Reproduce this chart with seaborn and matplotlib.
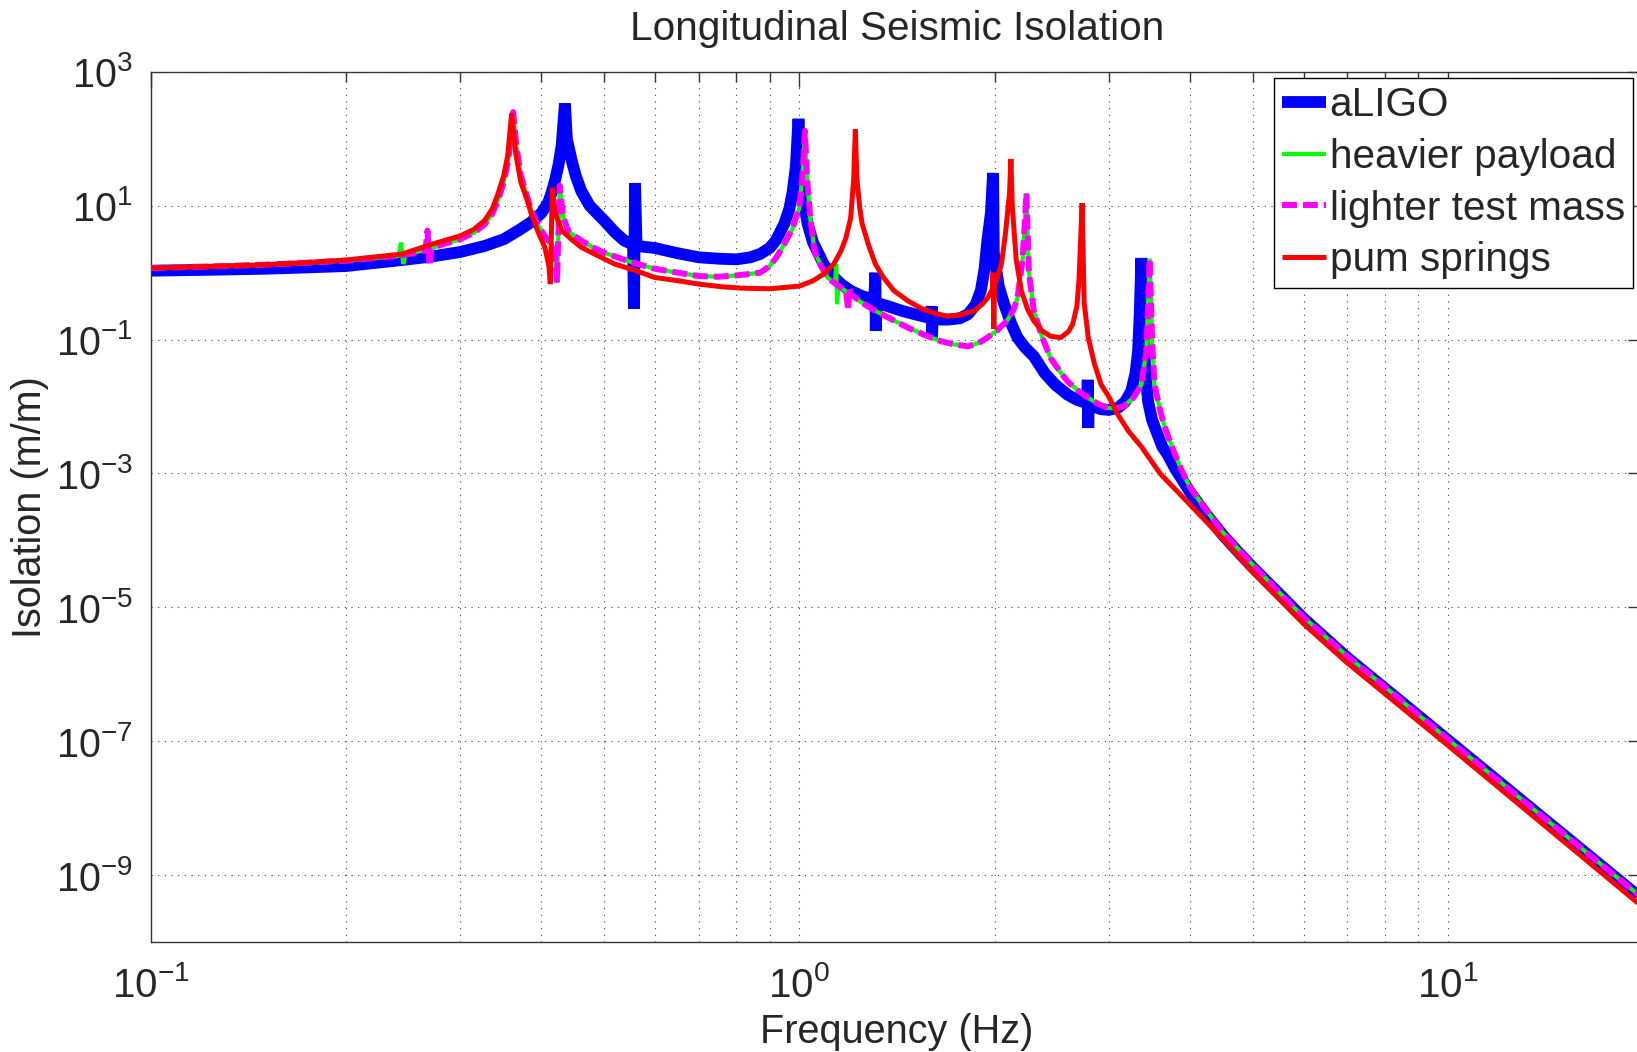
import matplotlib
matplotlib.use("Agg")
import matplotlib.pyplot as plt
import matplotlib.ticker as ticker
import pandas
import seaborn as sns

# (frequency Hz, isolation m/m)
aligo_pts = [
    (0.1, 1.072), (0.125, 1.109), (0.15, 1.148), (0.175, 1.202), (0.2, 1.259), (0.244, 1.549),
    (0.27, 1.738), (0.3, 2.042), (0.327, 2.512), (0.35, 3.162), (0.37, 4.365), (0.385, 5.623),
    (0.40, 7.762), (0.41, 11.22), (0.415, 15.85), (0.42, 23.99), (0.425, 39.81), (0.43, 79.43),
    (0.435, 338.8), (0.438, 100.0), (0.445, 50.12), (0.452, 28.18), (0.461, 16.60), (0.475, 10.0),
    (0.50, 6.026), (0.52, 3.981), (0.537, 3.020), (0.554, 2.630), (0.556, 0.2884), (0.558, 21.88),
    (0.561, 2.512), (0.598, 2.344), (0.65, 1.950), (0.70, 1.698), (0.75, 1.622), (0.80, 1.585),
    (0.84, 1.698), (0.87, 1.905), (0.90, 2.344), (0.92, 3.020), (0.948, 5.370), (0.965, 8.913),
    (0.977, 16.60), (0.988, 39.81), (0.997, 199.5), (1.004, 50.12), (1.012, 15.85), (1.02, 8.913),
    (1.03, 5.370), (1.05, 2.818), (1.09, 1.349), (1.12, 0.9333), (1.16, 0.6761), (1.20, 0.5370),
    (1.25, 0.4467), (1.305, 0.3981), (1.31, 1.0), (1.312, 0.1349), (1.315, 0.3548), (1.37, 0.3162),
    (1.44, 0.2692), (1.52, 0.2344), (1.595, 0.2089), (1.60, 0.3162), (1.602, 0.1072), (1.605, 0.1995),
    (1.70, 0.1995), (1.77, 0.2089), (1.82, 0.2399), (1.87, 0.3311), (1.905, 0.5370), (1.93, 1.122),
    (1.95, 3.020), (1.975, 7.943), (1.99, 30.90), (1.995, 1.995), (2.03, 0.6310), (2.07, 0.3388),
    (2.12, 0.1778), (2.17, 0.1072), (2.23, 0.07586), (2.30, 0.05623), (2.39, 0.03162), (2.48, 0.02138),
    (2.59, 0.01514), (2.68, 0.01259), (2.78, 0.01122), (2.785, 0.02512), (2.79, 0.004786), (2.795, 0.01072),
    (2.92, 0.009120), (3.0, 0.008913), (3.10, 0.009550), (3.18, 0.01175), (3.25, 0.01698), (3.30, 0.03162),
    (3.33, 0.06761), (3.35, 0.2512), (3.37, 1.660), (3.39, 0.1259), (3.42, 0.03162), (3.45, 0.01202),
    (3.50, 0.006310), (3.57, 0.003802), (3.63, 0.002512), (3.70, 0.001905), (3.80, 0.001175),
    (3.90, 7.943e-4), (4.0, 5.370e-4), (4.25, 2.399e-4), (4.5, 1.202e-4), (4.75, 6.761e-5),
    (5.0, 3.981e-5), (5.5, 1.585e-5), (6.0, 6.761e-6), (7.0, 1.778e-6), (8.0, 6.166e-7),
    (10.0, 1.047e-7), (20.0, 4.266e-10),
]

heavy_pts = [
    (0.1, 1.175), (0.125, 1.245), (0.15, 1.318), (0.175, 1.413), (0.2, 1.514), (0.241, 1.778),
    (0.243, 2.818), (0.245, 1.349), (0.247, 1.862), (0.268, 2.239), (0.285, 2.754), (0.3, 3.162),
    (0.315, 3.981), (0.327, 5.248), (0.336, 7.586), (0.343, 12.02), (0.35, 22.39), (0.356, 50.12),
    (0.362, 251.2), (0.366, 79.43), (0.372, 28.18), (0.38, 14.13), (0.386, 8.511), (0.395, 5.248),
    (0.405, 3.548), (0.415, 2.630), (0.420, 2.239), (0.423, 0.7079), (0.427, 19.95), (0.432, 7.079),
    (0.44, 4.169), (0.45, 3.548), (0.461, 3.020), (0.48, 2.399), (0.50, 1.995), (0.55, 1.445),
    (0.598, 1.148), (0.65, 1.0), (0.70, 0.8913), (0.75, 0.8710), (0.80, 0.9120), (0.87, 1.0),
    (0.90, 1.259), (0.925, 1.778), (0.948, 2.692), (0.975, 4.467), (1.0, 9.333), (1.012, 31.62),
    (1.02, 131.8), (1.028, 25.12), (1.04, 6.310), (1.055, 2.138), (1.08, 1.259), (1.107, 0.8318),
    (1.135, 0.7079), (1.14, 1.349), (1.143, 0.3388), (1.15, 0.6310), (1.19, 0.5012), (1.25, 0.3548),
    (1.31, 0.2692), (1.39, 0.1995), (1.47, 0.1514), (1.56, 0.1175), (1.65, 0.09550), (1.73, 0.08511),
    (1.82, 0.07943), (1.89, 0.08913), (1.95, 0.1072), (2.02, 0.1380), (2.09, 0.1905), (2.14, 0.2818),
    (2.17, 0.4169), (2.21, 1.585), (2.24, 15.49), (2.26, 1.0), (2.30, 0.2692), (2.37, 0.1072),
    (2.44, 0.05370), (2.52, 0.03388), (2.59, 0.02399), (2.69, 0.01738), (2.79, 0.01349), (2.89, 0.01096),
    (2.99, 0.009550), (3.08, 0.009333), (3.17, 0.01023), (3.28, 0.01380), (3.37, 0.02138), (3.43, 0.06761),
    (3.47, 1.622), (3.50, 0.1), (3.53, 0.02138), (3.6, 0.008913), (3.66, 0.005012), (3.79, 0.001995),
    (3.9, 0.001047), (4.0, 6.310e-4), (4.25, 2.754e-4), (4.5, 1.318e-4), (5.0, 4.365e-5),
    (5.5, 1.660e-5), (6.0, 7.079e-6), (7.0, 1.862e-6), (8.0, 6.457e-7), (10.0, 1.072e-7), (20.0, 4.467e-10),
]

light_pts = [
    (0.1, 1.175), (0.125, 1.245), (0.15, 1.318), (0.175, 1.413), (0.2, 1.514), (0.244, 1.820),
    (0.265, 2.138), (0.267, 4.266), (0.269, 1.259), (0.271, 2.344), (0.285, 2.754), (0.3, 3.162),
    (0.315, 3.981), (0.327, 5.248), (0.336, 7.586), (0.343, 12.02), (0.35, 22.39), (0.356, 50.12),
    (0.362, 251.2), (0.366, 79.43), (0.372, 28.18), (0.38, 14.13), (0.386, 8.511), (0.395, 5.248),
    (0.405, 3.548), (0.415, 2.630), (0.420, 2.239), (0.423, 0.7079), (0.427, 19.95), (0.432, 7.079),
    (0.44, 4.169), (0.45, 3.548), (0.461, 3.020), (0.48, 2.399), (0.50, 1.995), (0.55, 1.445),
    (0.598, 1.148), (0.65, 1.0), (0.70, 0.8913), (0.75, 0.8710), (0.80, 0.9120), (0.87, 1.0),
    (0.90, 1.259), (0.925, 1.778), (0.948, 2.692), (0.975, 4.467), (1.0, 9.333), (1.012, 31.62),
    (1.02, 131.8), (1.028, 25.12), (1.04, 6.310), (1.055, 2.138), (1.08, 1.259), (1.107, 0.8318),
    (1.15, 0.6310), (1.18, 0.5370), (1.19, 0.2692), (1.193, 0.5888), (1.20, 0.4786), (1.25, 0.3548),
    (1.31, 0.2692), (1.39, 0.1995), (1.47, 0.1514), (1.56, 0.1175), (1.65, 0.09550), (1.73, 0.08511),
    (1.82, 0.07943), (1.89, 0.08913), (1.95, 0.1072), (2.02, 0.1380), (2.09, 0.1905), (2.14, 0.2818),
    (2.17, 0.4169), (2.21, 1.585), (2.24, 15.49), (2.26, 1.0), (2.30, 0.2692), (2.37, 0.1072),
    (2.44, 0.05370), (2.52, 0.03388), (2.59, 0.02399), (2.69, 0.01738), (2.79, 0.01349), (2.89, 0.01096),
    (2.99, 0.009550), (3.08, 0.009333), (3.17, 0.01023), (3.28, 0.01380), (3.37, 0.02138), (3.43, 0.06761),
    (3.47, 1.622), (3.50, 0.1), (3.53, 0.02138), (3.6, 0.008913), (3.66, 0.005012), (3.79, 0.001995),
    (3.9, 0.001047), (4.0, 6.310e-4), (4.25, 2.754e-4), (4.5, 1.318e-4), (5.0, 4.365e-5),
    (5.5, 1.660e-5), (6.0, 7.079e-6), (7.0, 1.862e-6), (8.0, 6.457e-7), (10.0, 1.072e-7), (20.0, 4.467e-10),
]

pum_pts = [
    (0.1, 1.175), (0.125, 1.245), (0.15, 1.318), (0.175, 1.429), (0.2, 1.549), (0.244, 1.905),
    (0.272, 2.692), (0.3, 3.548), (0.315, 4.467), (0.327, 6.026), (0.336, 8.913), (0.343, 15.14),
    (0.35, 28.18), (0.355, 56.23), (0.360, 239.9), (0.365, 63.10), (0.372, 22.39), (0.38, 12.59),
    (0.386, 7.586), (0.395, 4.169), (0.405, 2.399), (0.411, 1.259), (0.413, 0.6761), (0.416, 18.62),
    (0.42, 7.943), (0.43, 4.266), (0.445, 3.162), (0.461, 2.399), (0.49, 1.778), (0.519, 1.349),
    (0.56, 1.072), (0.598, 0.8511), (0.65, 0.7586), (0.70, 0.6761), (0.76, 0.6166), (0.815, 0.5888),
    (0.9, 0.5754), (1.0, 0.6310), (1.05, 0.7586), (1.09, 0.9550), (1.13, 1.349), (1.16, 2.138),
    (1.18, 3.311), (1.20, 6.607), (1.213, 25.12), (1.22, 138.0), (1.227, 25.12), (1.24, 8.913),
    (1.25, 5.370), (1.28, 2.512), (1.31, 1.349), (1.35, 0.8318), (1.40, 0.5370), (1.47, 0.3802),
    (1.54, 0.2951), (1.61, 0.2512), (1.69, 0.2239), (1.77, 0.2344), (1.86, 0.2692), (1.92, 0.3467),
    (1.95, 0.4169), (1.985, 0.5623), (1.99, 1.0), (1.995, 0.1445), (2.0, 0.6310), (2.05, 1.349),
    (2.08, 3.981), (2.11, 15.85), (2.12, 50.12), (2.13, 10.0), (2.16, 1.585), (2.20, 0.5370),
    (2.25, 0.2818), (2.30, 0.1905), (2.37, 0.1349), (2.44, 0.1122), (2.53, 0.1072), (2.6, 0.1318),
    (2.64, 0.1698), (2.68, 0.3162), (2.70, 0.7943), (2.73, 10.96), (2.75, 0.3548), (2.79, 0.1072),
    (2.85, 0.04467), (2.92, 0.02138), (3.0, 0.01413), (3.10, 0.007586), (3.22, 0.004266),
    (3.37, 0.002512), (3.6, 0.001), (4.0, 3.467e-4), (4.5, 1.047e-4), (5.0, 3.388e-5),
    (6.0, 5.623e-6), (7.0, 1.479e-6), (8.0, 5.129e-7), (10.0, 8.710e-8), (20.0, 3.311e-10),
]

y_ticks = [1e-9, 1e-7, 1e-5, 1e-3, 1e-1, 1e1, 1e3]

sns.set_theme(style="white")
plt.rcParams["font.family"] = ["Liberation Sans", "DejaVu Sans"]
plt.rcParams["mathtext.fontset"] = "custom"
plt.rcParams["mathtext.rm"] = "Liberation Sans"
plt.rcParams["mathtext.it"] = "Liberation Sans:italic"
plt.rcParams["mathtext.bf"] = "Liberation Sans:bold"
plt.rcParams["axes.unicode_minus"] = False

fig = plt.figure(figsize=(16.37, 10.52), dpi=100)
ax = fig.add_axes([0.0922, 0.1046, 0.9114, 0.827])
ax.set_xscale("log")
ax.set_yscale("log")

series = [
    ("aLIGO", aligo_pts, dict(color="#0000ff", linewidth=8.5, zorder=2)),
    ("heavier payload", heavy_pts, dict(color="#00ff00", linewidth=3, zorder=3)),
    ("lighter test mass", light_pts,
     dict(color="#ff00ff", linewidth=4.3, linestyle=(0, (2.5, 1.0)), zorder=4)),
    ("pum springs", pum_pts, dict(color="#ff0000", linewidth=3.6, zorder=5)),
]
for name, pts, style in series:
    df = pandas.DataFrame(pts, columns=["freq", "iso"])
    sns.lineplot(data=df, x="freq", y="iso", ax=ax, label=name, estimator=None,
                 sort=False, solid_joinstyle="bevel", solid_capstyle="butt", **style)

ax.set_xlim(0.1, 20)
ax.set_ylim(1e-10, 1e3)
ax.set_yticks(y_ticks)
ax.yaxis.set_minor_locator(ticker.NullLocator())
ax.xaxis.set_major_locator(ticker.LogLocator(base=10))
ax.xaxis.set_minor_locator(ticker.LogLocator(base=10, subs=range(2, 10)))
ax.xaxis.set_minor_formatter(ticker.NullFormatter())

grid_style = dict(color="0.25", linewidth=0.8, linestyle=(0, (1, 5)))
ax.grid(True, which="major", axis="both", **grid_style)
ax.grid(True, which="minor", axis="x", **grid_style)

ax.tick_params(which="both", direction="in", top=True, right=True, color="0.2", width=1)
ax.tick_params(which="major", length=11)
ax.tick_params(which="minor", length=7)
ax.tick_params(axis="y", labelsize=28.5, pad=13)
ax.tick_params(axis="x", labelsize=29, pad=17)
for sp in ax.spines.values():
    sp.set_color("0.2")
    sp.set_linewidth(1.0)

ax.set_title("Longitudinal Seismic Isolation", fontsize=29.2, pad=23)
ax.set_xlabel("Frequency (Hz)", fontsize=28.5, labelpad=6)
ax.set_ylabel("Isolation (m/m)", fontsize=28.5)
ax.yaxis.set_label_coords(-0.068, 0.5)

leg = ax.legend(loc="upper right", bbox_to_anchor=(0.9933, 0.9931), fontsize=29.2,
                frameon=True, fancybox=False, edgecolor="black", framealpha=1,
                handlelength=1.1, handletextpad=0.08, labelspacing=0.34,
                borderpad=0.2, borderaxespad=0)
leg.get_frame().set_linewidth(1.0)

fig.savefig("out.png", dpi=100)
